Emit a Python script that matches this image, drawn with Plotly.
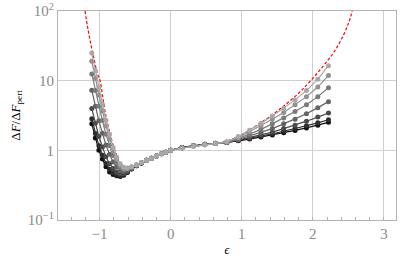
import plotly.graph_objects as go

eps = [-1.11, -1.06, -1.01, -0.96, -0.91, -0.86, -0.81, -0.76, -0.71, -0.66, -0.61,
       -0.55, -0.48, -0.41, -0.34, -0.27, -0.2, -0.13, -0.07,
       0.0, 0.16, 0.32, 0.48, 0.63, 0.79, 0.95, 1.11, 1.27, 1.43, 1.59, 1.75, 1.91, 2.07, 2.22]

s0 = [25, 14, 8, 4.6, 2.7, 1.7, 1.1, 0.8, 0.64, 0.57, 0.56, 0.58, 0.62, 0.67, 0.72, 0.77, 0.83, 0.89, 0.94,
      1, 1.08, 1.15, 1.2, 1.25, 1.33, 1.58, 1.95, 2.45, 3.1, 4.0, 5.3, 7.2, 10.5, 16.4]
s1 = [19, 10.7, 6.2, 3.7, 2.24, 1.46, 0.99, 0.74, 0.61, 0.55, 0.555, 0.575, 0.62, 0.67, 0.72, 0.77, 0.83, 0.89, 0.94,
      1, 1.08, 1.15, 1.2, 1.25, 1.32, 1.52, 1.85, 2.25, 2.8, 3.5, 4.5, 5.9, 8.1, 11.9]
s2 = [12.5, 7.2, 4.3, 2.67, 1.7, 1.17, 0.84, 0.66, 0.565, 0.53, 0.54, 0.57, 0.615, 0.67, 0.72, 0.77, 0.83, 0.89, 0.94,
      1, 1.08, 1.15, 1.2, 1.25, 1.31, 1.47, 1.7, 2.0, 2.4, 2.9, 3.6, 4.5, 5.9, 7.9]
s3 = [7.3, 4.3, 2.65, 1.76, 1.19, 0.88, 0.68, 0.575, 0.51, 0.5, 0.52, 0.56, 0.61, 0.665, 0.72, 0.77, 0.83, 0.89, 0.94,
      1, 1.09, 1.16, 1.21, 1.25, 1.3, 1.43, 1.6, 1.8, 2.05, 2.4, 2.8, 3.35, 4.1, 5.0]
s4 = [4.0, 2.45, 1.58, 1.12, 0.81, 0.64, 0.55, 0.49, 0.46, 0.465, 0.5, 0.55, 0.605, 0.66, 0.72, 0.77, 0.83, 0.89, 0.94,
      1, 1.09, 1.16, 1.21, 1.25, 1.3, 1.4, 1.52, 1.66, 1.83, 2.05, 2.3, 2.62, 3.0, 3.44]
s5 = [2.85, 1.75, 1.16, 0.85, 0.645, 0.535, 0.48, 0.45, 0.43, 0.45, 0.485, 0.545, 0.6, 0.66, 0.72, 0.77, 0.83, 0.89, 0.94,
      1, 1.1, 1.17, 1.22, 1.26, 1.3, 1.38, 1.48, 1.6, 1.73, 1.88, 2.05, 2.25, 2.48, 2.75]
s6 = [2.4, 1.5, 1.0, 0.75, 0.58, 0.49, 0.45, 0.43, 0.42, 0.44, 0.48, 0.54, 0.6, 0.66, 0.72, 0.77, 0.83, 0.89, 0.94,
      1, 1.1, 1.17, 1.22, 1.26, 1.3, 1.37, 1.45, 1.55, 1.66, 1.79, 1.93, 2.1, 2.3, 2.52]

series = [s6, s5, s4, s3, s2, s1, s0]
colors = ["#111111", "#2e2e2e", "#4a4a4a", "#636363", "#7a7a7a", "#919191", "#a8a8a8"]

eps_pert = [-1.205, -1.17, -1.134, -1.08, -1.03, -0.993, -0.95, -0.908, -0.86, -0.81, -0.76, -0.71, -0.66,
            -0.6, -0.5, -0.4, -0.3, -0.2, -0.1, 0.0, 0.2, 0.4, 0.6, 0.8, 1.0, 1.12, 1.26, 1.4, 1.6, 1.8,
            1.9, 2.0, 2.1, 2.2, 2.3, 2.4, 2.5, 2.56]
pert = [100, 60, 38, 21, 12.5, 10, 5.3, 3.0, 1.85, 1.2, 0.85, 0.66, 0.58,
        0.56, 0.6, 0.665, 0.74, 0.82, 0.91, 1.0, 1.09, 1.17, 1.25, 1.37, 1.68, 1.98, 2.47, 3.07, 4.4, 6.6,
        8.4, 10.8, 14.2, 19, 26, 39, 66, 105]

xticks = [-1, 0, 1, 2, 3]
xticktext = ["\u22121", "0", "1", "2", "3"]
yticks = [0.1, 1, 10, 100]
yticktext = ["10<sup>\u22121</sup>", "1", "10", "10<sup>2</sup>"]

SERIF = "Liberation Serif, DejaVu Serif, serif"

fig = go.Figure()
fig.add_trace(go.Scatter(x=eps_pert, y=pert, mode="lines", line=dict(color="#ff0000", width=1.2, dash="3px,2px", shape="spline"),
                         showlegend=False, hoverinfo="skip"))
for s, c in zip(series, colors):
    fig.add_trace(go.Scatter(x=eps, y=s, mode="lines+markers", line=dict(color=c, width=1.2),
                             marker=dict(color=c, size=5), showlegend=False))

axis_common = dict(showline=True, linecolor="#b4b4b4", linewidth=1, mirror=True,
                   showgrid=True, gridcolor="#cfcfcf", gridwidth=1, zeroline=False,
                   tickfont=dict(family=SERIF, size=15, color="#8a8a8a"),
                   ticks="", automargin=False, ticklabeloverflow="allow")
fig.update_xaxes(range=[-1.585, 3.17], tickvals=xticks, ticktext=xticktext,
                 minor=dict(dtick=0.2, tick0=0, ticks="inside", ticklen=3, tickcolor="#b4b4b4", showgrid=False),
                 title=dict(text="<i>\u03f5</i>", font=dict(family=SERIF, size=12, color="#000000"), standoff=4),
                 **axis_common)
fig.update_yaxes(type="log", range=[-1, 2], tickvals=yticks, ticktext=yticktext,
                 title=dict(text="\u0394<i>F</i>/\u0394<i>F</i><sub>pert</sub>", font=dict(family=SERIF, size=13, color="#000000"), standoff=4),
                 **axis_common)
fig.update_layout(width=407, height=261, margin=dict(l=58, r=11, t=11, b=41),
                  paper_bgcolor="white", plot_bgcolor="white", font=dict(family=SERIF))
fig.write_html("out.html", config={"displayModeBar": False},
               post_script="document.body.style.margin='0px';document.body.style.overflow='hidden';")
